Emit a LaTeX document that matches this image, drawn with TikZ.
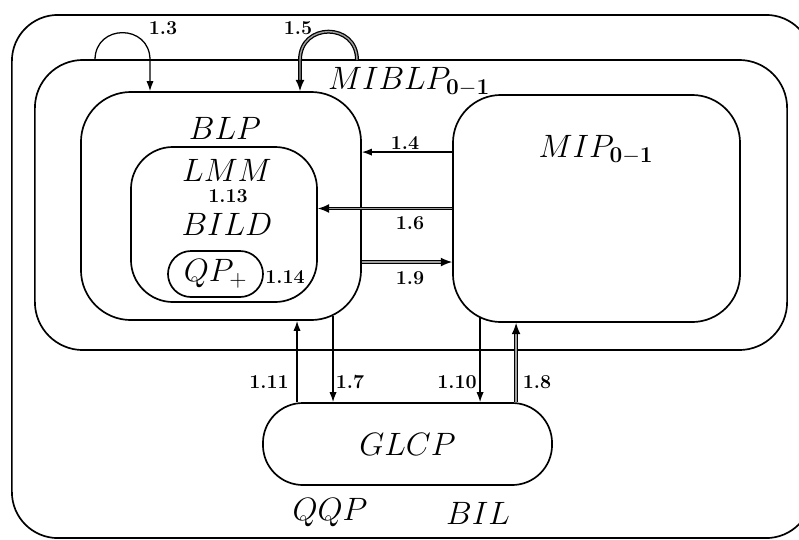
\documentclass[tikz,border=0pt]{standalone}
\usepackage{fix-cm}
\usetikzlibrary{arrows.meta}
\tikzset{
    box/.style={rectangle, draw, line width=1.2pt, inner sep=0pt},
    lbl/.style={font=\fontsize{14}{16}\selectfont\bfseries, inner sep=1pt},
    nm/.style={font=\fontsize{23}{27}\selectfont, inner sep=0pt},
    arr/.style={-{Latex[length=2.5mm, width=1.8mm]}, line width=0.9pt},
    dbl/.style={-{Latex[length=2.8mm, width=2.2mm]}, line width=0.9pt, double=gray!75, double distance=1pt},
}

\begin{document}
\begin{tikzpicture}[x=0.025cm, y=-0.025cm]
\useasboundingbox (0,0) rectangle (799,539);

% Boxes
\node[box, rounded corners=1.15cm, minimum width=20cm, minimum height=13.075cm] (all) at (412,276.5) {};
\node[box, rounded corners=1.2cm, minimum width=18.8cm, minimum height=7.25cm] (miblp) at (411,205) {};
\node[box, rounded corners=1.25cm, minimum width=7cm, minimum height=5.7cm] (blp) at (221,206) {};
\node[box, rounded corners=1.2cm, minimum width=7.175cm, minimum height=5.675cm] (mip) at (596.5,208.5) {};
\node[box, rounded corners=1.05cm, minimum width=4.65cm, minimum height=3.875cm] (lmm) at (224,224.5) {};
\node[box, rounded corners=0.575cm, minimum width=2.375cm, minimum height=1.15cm, font=\fontsize{23}{27}\selectfont] (qp) at (215.5,274) {$QP_+$};
\node[box, rounded corners=1cm, minimum width=7.225cm, minimum height=2.05cm, font=\fontsize{23}{27}\selectfont] (glcp) at (407.5,444) {$GLCP$};

% Names
\node[nm] (tmiblp) at (409,82) {$MIBLP_{\mathbf{0-1}}$};
\node[nm] (tblp) at (225,128) {$BLP$};
\node[nm] (tmip) at (596,150) {$MIP_{\mathbf{0-1}}$};
\node[nm] (tlmm) at (227,170) {$LMM$};
\node[nm] (tbild) at (227,224) {$BILD$};
\node[nm] (tqqp) at (330,513) {$QQP$};
\node[nm] (tbil) at (478,513) {$BIL$};

% Loops on MIBLP
\coordinate (a3) at (95,60);
\coordinate (b3) at (150,60);
\coordinate (a5) at (357,60);
\coordinate (b5) at (300,60);
\draw[arr] (a3) to[out=90, in=90, looseness=1.7] (b3) -- (b3 |- blp.north);
\draw[dbl] (a5) to[out=90, in=90, looseness=1.7] (b5) -- (b5 |- blp.north);

% Arrows between BLP and MIP
\draw[arr] ([yshift=1.41cm]mip.west) -- ([yshift=1.41cm]mip.west -| blp.east);
\draw[dbl] (mip.west) -- (mip.west -| lmm.east);
\draw[dbl] ([yshift=-1.4cm]blp.east) -- ([yshift=-1.4cm]blp.east -| mip.west);

% Arrows to and from GLCP
\draw[arr] ([xshift=1.9cm]blp.south |- glcp.north) -- ([xshift=1.9cm]blp.south);
\draw[arr] ([xshift=2.8cm, yshift=0.125cm]blp.south) -- ([xshift=2.8cm]blp.south |- glcp.north);
\draw[arr] ([xshift=-2.91cm, yshift=0.15cm]mip.south) -- ([xshift=-2.91cm]mip.south |- glcp.north);
\draw[dbl] ([xshift=-2.01cm]mip.south |- glcp.north) -- ([xshift=-2.01cm]mip.south);

% Labels
\node[lbl] (l3) at (163,28) {1.3};
\node[lbl] (l5) at (298,28) {1.5};
\node[lbl] (l4) at (405,143) {1.4};
\node[lbl] (l6) at (410,223) {1.6};
\node[lbl] (l9) at (410,278) {1.9};
\node[lbl] (l13) at (228,196) {1.13};
\node[lbl] (l14) at (285,277) {1.14};
\node[lbl] (l11) at (269,382) {1.11};
\node[lbl] (l7) at (350,382) {1.7};
\node[lbl] (l10) at (457,382) {1.10};
\node[lbl] (l8) at (537,382) {1.8};

\end{tikzpicture}
\end{document}
